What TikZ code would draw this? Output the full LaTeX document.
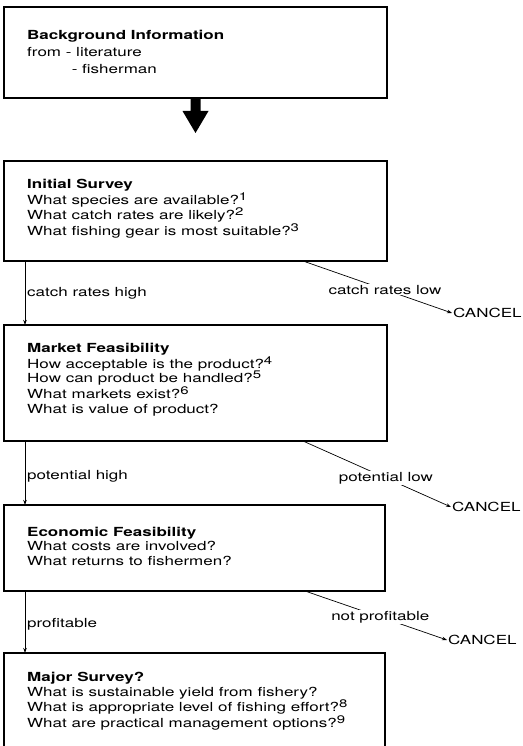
\documentclass[tikz,border=0pt]{standalone}
\usepackage{fontspec}
\setmainfont{TeX Gyre Heros}[FakeStretch=1.36]
\usetikzlibrary{arrows.meta,calc}
\newcommand\supnum[1]{\raisebox{4pt}{\fontsize{11}{11}\selectfont #1}}
\tikzset{
  box/.style={draw, line width=1.1pt, inner sep=0pt, outer sep=0pt, minimum width=383pt},
  txt/.style={anchor=base west, align=left, inner sep=0pt, font=\fontsize{12.5}{14.5}\selectfont},
  conn/.style={line width=0.7pt, -{Stealth[length=5pt,width=3.5pt]}},
  lbl/.style={inner sep=0pt, font=\fontsize{12.5}{14.5}\selectfont},
  onlbl/.style={fill=white, inner sep=1pt, font=\fontsize{12.5}{14.5}\selectfont},
  cancel/.style={anchor=west, inner sep=1pt, font=\fontsize{12.5}{14.5}\selectfont},
}
\begin{document}
\begin{tikzpicture}[x=1pt,y=1pt]
\useasboundingbox (0,0) rectangle (522,-746);
\clip (0,0) rectangle (522,-746);

% boxes
\node[box, minimum height=91pt] (b1) at (195.5,-52.5) {};
\node[box, minimum height=100pt] (b2) at (195.5,-211) {};
\node[box, minimum height=116pt] (b3) at (195.5,-383) {};
\node[box, minimum width=381pt, minimum height=86pt] (b4) at (194.5,-548) {};
\node[box, minimum width=381pt, minimum height=107pt] (b5) at (194.5,-706.5) {};

% texts (anchor = baseline of the last line)
\node[txt, font=\fontsize{12.5}{17}\selectfont] (t1) at (27,-74) {\textbf{Background Information}\\from - literature\\\phantom{from }\hspace{6pt}- fisherman};
\node[txt] (t2) at (27,-235.5) {\textbf{Initial Survey}\\What species are available?\supnum{1}\\What catch rates are likely?\supnum{2}\\What fishing gear is most suitable?\supnum{3}};
\node[txt] (t3) at (27,-413) {\textbf{Market Feasibility}\\How acceptable is the product?\supnum{4}\\How can product be handled?\supnum{5}\\What markets exist?\supnum{6}\\What is value of product?};
\node[txt] (t4) at (27,-565) {\textbf{Economic Feasibility}\\What costs are involved?\\What returns to fishermen?};
\node[txt] (t5) at (27,-727.5) {\textbf{Major Survey?}\\What is sustainable yield from fishery?\\What is appropriate level of fishing effort?\supnum{8}\\What are practical management options?\supnum{9}};

% big arrow
\fill ($(b1.south)+(-5,0)$) -- ($(b1.south)+(5,0)$) -- ($(b1.south)+(5,-13)$) -- ($(b1.south)+(13,-13)$)
  -- ($(b1.south)+(0,-35)$) -- ($(b1.south)+(-13,-13)$) -- ($(b1.south)+(-5,-13)$) -- cycle;

% yes connectors
\draw[conn] ([xshift=21pt]b2.south west) -- ([xshift=21pt]b3.north west);
\draw[conn] ([xshift=21pt]b3.south west) -- ([xshift=21pt]b4.north west);
\draw[conn] ([xshift=21pt]b4.south west) -- ([xshift=21pt]b5.north west);
\node[lbl, anchor=base west] (y1) at (27,-296) {catch rates high};
\node[lbl, anchor=base west] (y2) at (27,-479) {potential high};
\node[lbl, anchor=base west] (y3) at (27,-627) {profitable};

% cancel branches
\node[cancel] (c1) at (452,-313) {CANCEL};
\node[cancel] (c2) at (451,-507) {CANCEL};
\node[cancel] (c3) at (447,-640) {CANCEL};
\draw[conn] ([xshift=299pt]b2.south west) -- (c1.west) node[onlbl, pos=0.55] (n1) {catch rates low};
\draw[conn] ([xshift=299pt]b3.south west) -- (c2.west) node[onlbl, pos=0.56] (n2) {potential low};
\draw[conn] ([xshift=301pt]b4.south west) -- (c3.west) node[onlbl, pos=0.53] (n3) {not profitable};
\end{tikzpicture}
\end{document}
